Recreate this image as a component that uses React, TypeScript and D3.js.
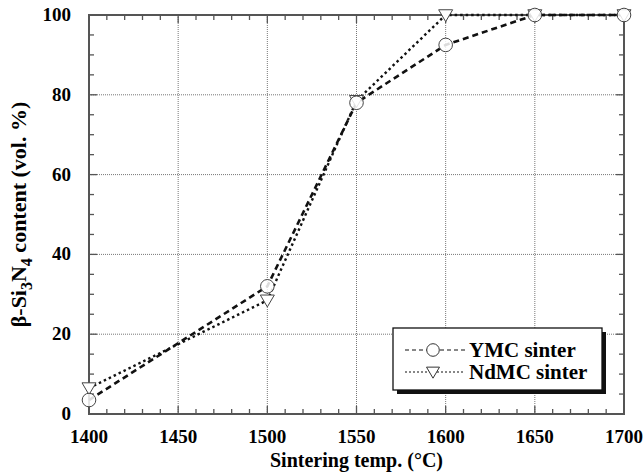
import React, { useEffect, useRef } from 'react';
import * as d3 from 'd3';

const temps = [1400, 1500, 1550, 1600, 1650, 1700];
const ymcValues = [3.5, 32, 78, 92.5, 100, 100];
const ndmcValues = [6.5, 28.5, 78.5, 100, 100, 100];
const xTicks = [1400, 1450, 1500, 1550, 1600, 1650, 1700];
const yTicks = [0, 20, 40, 60, 80, 100];
const seriesNames = ['YMC sinter', 'NdMC sinter'];

const W = 644;
const H = 473;
const margin = { top: 15, right: 20, bottom: 59, left: 89 };
const FONT = '"Liberation Serif", "Times New Roman", serif';

function App() {
  const ref = useRef<SVGSVGElement>(null);

  useEffect(() => {
    const svg = d3.select(ref.current);
    svg.selectAll('*').remove();

    const x = d3.scaleLinear().domain([1400, 1700]).range([margin.left, W - margin.right]);
    const y = d3.scaleLinear().domain([0, 100]).range([H - margin.bottom, margin.top]);
    const axisColor = '#555';
    const x0 = x(1400), x1 = x(1700), y0 = y(0), y1 = y(100);

    // grid
    const grid = svg.append('g');
    grid.selectAll('line.gx')
      .data(xTicks.slice(1, -1))
      .enter().append('line')
      .attr('x1', d => x(d)).attr('x2', d => x(d))
      .attr('y1', y0).attr('y2', y1)
      .attr('stroke', '#777').attr('stroke-width', 1).attr('stroke-dasharray', '1,1');
    grid.selectAll('line.gy')
      .data(yTicks.slice(1, -1))
      .enter().append('line')
      .attr('x1', x0).attr('x2', x1)
      .attr('y1', d => y(d)).attr('y2', d => y(d))
      .attr('stroke', '#777').attr('stroke-width', 1).attr('stroke-dasharray', '1,1');

    // frame
    svg.append('rect')
      .attr('x', x0).attr('y', y1)
      .attr('width', x1 - x0).attr('height', y0 - y1)
      .attr('fill', 'none').attr('stroke', axisColor).attr('stroke-width', 2);

    // ticks (inward)
    const tk = svg.append('g').attr('stroke', axisColor).attr('stroke-width', 1.3);
    d3.range(1400, 1701, 10).forEach(v => {
      const major = v % 50 === 0;
      const len = major ? 8 : 5;
      tk.append('line').attr('x1', x(v)).attr('x2', x(v)).attr('y1', y0).attr('y2', y0 - len);
      tk.append('line').attr('x1', x(v)).attr('x2', x(v)).attr('y1', y1).attr('y2', y1 + len);
    });
    d3.range(0, 101, 5).forEach(v => {
      const major = v % 20 === 0;
      const len = major ? 8 : 5;
      tk.append('line').attr('x1', x0).attr('x2', x0 + len).attr('y1', y(v)).attr('y2', y(v));
      tk.append('line').attr('x1', x1).attr('x2', x1 - len).attr('y1', y(v)).attr('y2', y(v));
    });

    // tick labels
    svg.append('g').selectAll('text')
      .data(xTicks).enter().append('text')
      .attr('x', d => x(d)).attr('y', y0 + 29)
      .attr('text-anchor', 'middle')
      .attr('font-family', FONT).attr('font-weight', 'bold').attr('font-size', 19)
      .text(d => d);
    svg.append('g').selectAll('text')
      .data(yTicks).enter().append('text')
      .attr('x', x0 - 18).attr('y', d => y(d) + 6)
      .attr('text-anchor', 'end')
      .attr('font-family', FONT).attr('font-weight', 'bold').attr('font-size', 19)
      .text(d => d);

    // axis titles
    svg.append('text')
      .attr('x', (x0 + x1) / 2).attr('y', H - 6)
      .attr('text-anchor', 'middle')
      .attr('font-family', FONT).attr('font-weight', 'bold').attr('font-size', 20)
      .text('Sintering temp. (°C)');

    const yt = svg.append('text')
      .attr('transform', `translate(26,${(y0 + y1) / 2}) rotate(-90)`)
      .attr('text-anchor', 'middle')
      .attr('font-family', FONT).attr('font-weight', 'bold').attr('font-size', 22);
    yt.append('tspan').text('β-Si');
    yt.append('tspan').attr('dy', 6).attr('font-size', 16).text('3');
    yt.append('tspan').attr('dy', -6).text('N');
    yt.append('tspan').attr('dy', 6).attr('font-size', 16).text('4');
    yt.append('tspan').attr('dy', -6).text(' content (vol. %)');

    // lines
    const line = d3.line<number>()
      .x((_, i) => x(temps[i]))
      .y(d => y(d));

    const styles = [
      { values: ymcValues, dash: '6,4', width: 2.6 },
      { values: ndmcValues, dash: '2.5,3', width: 2.4 },
    ];
    styles.forEach(s => {
      svg.append('path')
        .attr('d', line(s.values))
        .attr('fill', 'none').attr('stroke', '#111')
        .attr('stroke-width', s.width).attr('stroke-dasharray', s.dash);
    });

    const tri = (cx: number, cy: number, r: number) =>
      `M${cx - r},${cy - r * 0.75}L${cx + r},${cy - r * 0.75}L${cx},${cy + r * 0.95}Z`;

    // markers
    svg.append('g').selectAll('path')
      .data(ndmcValues).enter().append('path')
      .attr('d', (d, i) => tri(x(temps[i]), y(d), 7))
      .attr('fill', 'white').attr('stroke', '#444').attr('stroke-width', 1);
    svg.append('g').selectAll('circle')
      .data(ymcValues).enter().append('circle')
      .attr('cx', (_, i) => x(temps[i])).attr('cy', d => y(d)).attr('r', 6.8)
      .attr('fill', 'white').attr('fill-opacity', 0.85).attr('stroke', '#444').attr('stroke-width', 1);

    // legend
    const lg = svg.append('g').attr('transform', 'translate(393,328)');
    lg.append('rect').attr('x', 4).attr('y', 4).attr('width', 209).attr('height', 62).attr('fill', '#111');
    lg.append('rect').attr('x', 0).attr('y', 0).attr('width', 209).attr('height', 62)
      .attr('fill', 'white').attr('stroke', '#111').attr('stroke-width', 1.3);
    seriesNames.forEach((name, i) => {
      const cy = 22 + i * 22;
      lg.append('line').attr('x1', 12).attr('x2', 72).attr('y1', cy).attr('y2', cy)
        .attr('stroke', '#111').attr('stroke-width', 1.2)
        .attr('stroke-dasharray', i === 0 ? '4,3' : '2,2');
      if (i === 0) {
        lg.append('circle').attr('cx', 40).attr('cy', cy).attr('r', 6.3)
          .attr('fill', 'white').attr('stroke', '#333');
      } else {
        lg.append('path').attr('d', tri(40, cy, 6.5))
          .attr('fill', 'white').attr('stroke', '#333');
      }
      lg.append('text').attr('x', 76).attr('y', cy + 7)
        .attr('font-family', FONT).attr('font-weight', 'bold').attr('font-size', 21)
        .text(name);
    });
  }, []);

  return (
    <div style={{ position: 'absolute', left: 0, top: 0, width: W, height: H }}>
      <svg ref={ref} width={W} height={H} style={{ display: 'block', background: 'white' }}></svg>
    </div>
  );
}

export default App;
